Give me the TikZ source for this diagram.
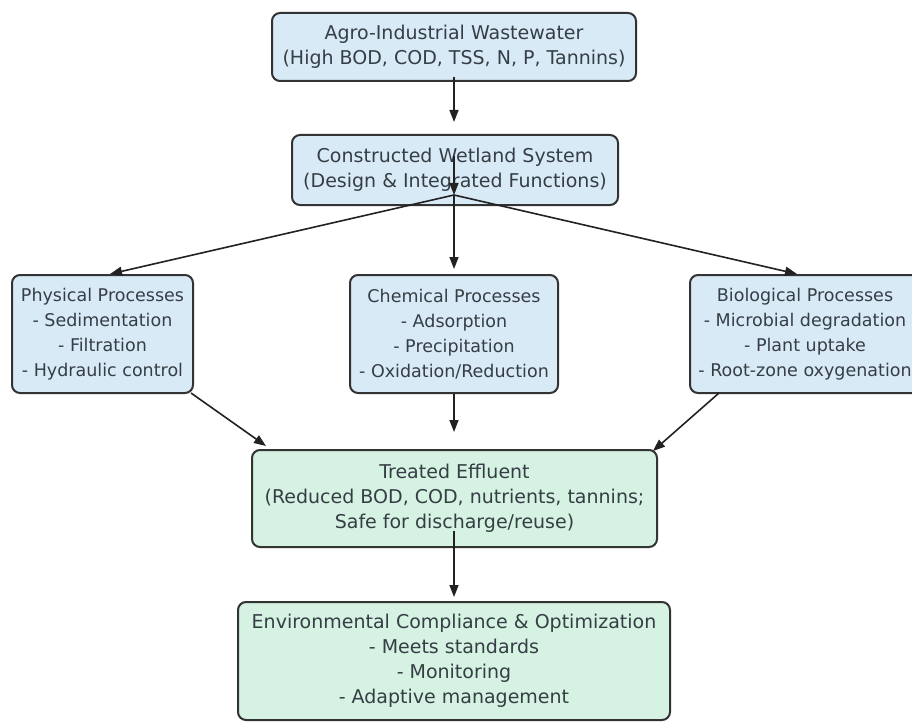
\documentclass[tikz,border=0pt]{standalone}
\usepackage{fontspec}
\setmainfont{DejaVu Sans}
\usetikzlibrary{arrows.meta,calc}
\definecolor{bluefill}{HTML}{D9EAF7}
\definecolor{greenfill}{HTML}{D5F2E2}
\definecolor{edgecol}{HTML}{333333}
\definecolor{txtcol}{HTML}{363E45}
\definecolor{arrcol}{HTML}{222222}
\begin{document}
\begin{tikzpicture}[x=1pt,y=-1pt,
  box/.style={draw=edgecol, line width=2pt, rounded corners=8pt, align=center,
    inner sep=0pt, text=txtcol, font=\fontsize{19}{25}\selectfont},
  bbox/.style={box, fill=bluefill},
  pbox/.style={bbox, font=\fontsize{17.5}{25}\selectfont},
  gbox/.style={box, fill=greenfill},
  arr/.style={draw=arrcol, line width=1.6pt, -{Triangle[length=12pt,width=9pt]}}]
\useasboundingbox (0,0) rectangle (912,722);
\clip (0,0) rectangle (912,722);
\fill[white] (0,0) rectangle (912,722);

\node[bbox, minimum width=364pt, minimum height=68pt] (src) at (454,47)
  {Agro-Industrial Wastewater\\(High BOD, COD, TSS, N, P, Tannins)};
\node[bbox, minimum width=326pt, minimum height=70pt] (cws) at (455,170)
  {Constructed Wetland System\\(Design \& Integrated Functions)};
\node[pbox, minimum width=181pt, minimum height=118pt] (phys) at (102.5,334)
  {Physical Processes\\- Sedimentation\\- Filtration\\- Hydraulic control};
\node[pbox, minimum width=208pt, minimum height=118pt] (chem) at (454,334)
  {Chemical Processes\\- Adsorption\\- Precipitation\\- Oxidation/Reduction};
\node[pbox, minimum width=230pt, minimum height=118pt] (bio) at (805,334)
  {Biological Processes\\- Microbial degradation\\- Plant uptake\\- Root-zone oxygenation};
\node[gbox, minimum width=405pt, minimum height=97pt] (treat) at (454.5,498.5)
  {Treated Effluent\\(Reduced BOD, COD, nutrients, tannins;\\Safe for discharge/reuse)};
\node[gbox, minimum width=432pt, minimum height=118pt] (comp) at (454,661)
  {Environmental Compliance \& Optimization\\- Meets standards\\- Monitoring\\- Adaptive management};

\coordinate (hub) at (454,195);

\draw[arr] ($(src.south)+(0,-5)$) -- ($(cws.north)+(-1,-12)$);
\draw[arr] ($(cws.north)+(-1,22)$) -- (hub);
\draw[arr] (hub) -- ($(phys.north)+(7.5,0)$);
\draw[arr] (hub) -- ($(chem.north)+(0,-5)$);
\draw[arr] (hub) -- ($(bio.north)+(-8,0)$);
\draw[arr] ($(phys.south east)+(-3,-1)$) -- ($(treat.north west)+(15,-3)$);
\draw[arr] (chem.south) -- ($(treat.north)+(-0.5,-17)$);
\draw[arr] ($(bio.south west)+(30,-1)$) -- ($(treat.north east)+(-5,2)$);
\draw[arr] ($(treat.south)+(-0.5,-17)$) -- ($(comp.north)+(0,-4)$);
\end{tikzpicture}
\end{document}
